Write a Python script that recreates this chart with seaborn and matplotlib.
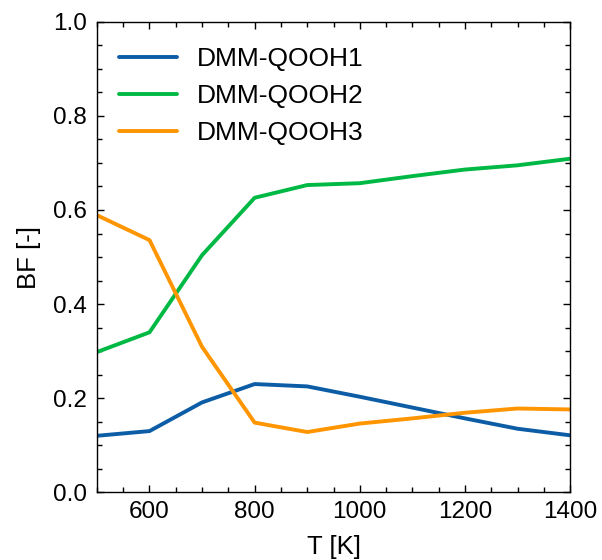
import pandas as pd
import seaborn as sns
import matplotlib.pyplot as plt
from matplotlib.ticker import MultipleLocator

temps = [500, 600, 700, 800, 900, 1000, 1100, 1200, 1300, 1400]
qooh1 = [0.120, 0.130, 0.191, 0.230, 0.225, 0.203, 0.180, 0.157, 0.135, 0.121]
qooh2 = [0.298, 0.340, 0.504, 0.626, 0.653, 0.657, 0.672, 0.686, 0.695, 0.709]
qooh3 = [0.589, 0.536, 0.309, 0.148, 0.128, 0.146, 0.157, 0.169, 0.178, 0.176]
names = ["DMM-QOOH1", "DMM-QOOH2", "DMM-QOOH3"]
colors = ["#0C5DA5", "#00B945", "#FF9500"]

df = pd.DataFrame({"T": temps * 3,
                   "BF": qooh1 + qooh2 + qooh3,
                   "species": [n for n in names for _ in temps]})

sns.set_style("ticks")
plt.rcParams["font.family"] = ["Liberation Sans", "DejaVu Sans"]
plt.rcParams["font.size"] = 17.5
plt.rcParams["text.color"] = "black"
plt.rcParams["axes.labelcolor"] = "black"
plt.rcParams["xtick.color"] = "black"
plt.rcParams["ytick.color"] = "black"

fig = plt.figure(figsize=(6.02, 5.6), dpi=100)
ax = fig.add_axes([0.161, 0.121, 0.786, 0.840])

sns.lineplot(data=df, x="T", y="BF", hue="species", palette=colors,
             linewidth=2.8, ax=ax)

ax.set_xlim(500, 1400)
ax.set_ylim(0, 1)
ax.set_xlabel("T [K]", fontsize=18.5, labelpad=9)
ax.set_ylabel("BF [-]", fontsize=18.5, labelpad=9)
ax.xaxis.set_major_locator(MultipleLocator(200))
ax.xaxis.set_minor_locator(MultipleLocator(50))
ax.yaxis.set_major_locator(MultipleLocator(0.2))
ax.yaxis.set_minor_locator(MultipleLocator(0.05))
ax.tick_params(which="both", direction="in", top=True, right=True,
               labelsize=17.5, width=1, color="black")
ax.tick_params(axis="x", which="major", pad=6)
ax.tick_params(axis="y", which="major", pad=7)
ax.tick_params(which="major", length=5)
ax.tick_params(which="minor", length=3.5)
for s in ax.spines.values():
    s.set_color("black")
    s.set_linewidth(1)

ax.legend(title=None, frameon=False, loc="upper left", fontsize=19,
          handlelength=2.2, handletextpad=0.76, labelspacing=0.5,
          borderaxespad=0.43, bbox_to_anchor=(0, 0.993))

fig.savefig("out.png", dpi=100)
